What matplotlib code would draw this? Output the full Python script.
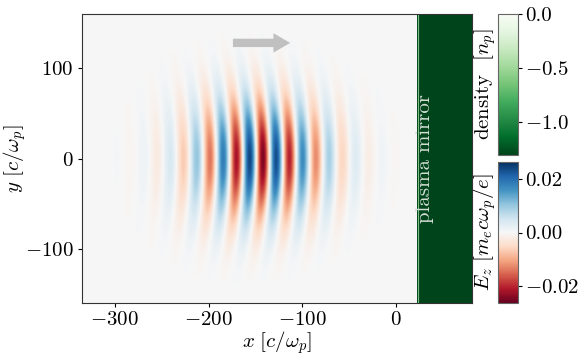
import numpy as np
import matplotlib
matplotlib.use("Agg")
import matplotlib.pyplot as plt

plt.rcParams['font.family'] = 'serif'
plt.rcParams['font.serif'] = ['cmr10']
plt.rcParams['mathtext.fontset'] = 'cm'
plt.rcParams['axes.formatter.use_mathtext'] = True
plt.rcParams['axes.unicode_minus'] = True
plt.rcParams['axes.edgecolor'] = '#333333'
plt.rcParams['xtick.major.size'] = 3
plt.rcParams['ytick.major.size'] = 3

# domain (c/omega_p)
x_range = [-335, 81]
y_range = [-160, 160]

# laser pulse parameters
pulse_center = -145.0
pulse_length = 72.0
pulse_waist = 64.0
wavelength = 28.5
red_crest = -142.0
curvature = 0.0008
E_amp = 0.025
E_lim = 0.0265

# plasma mirror
mirror_start = 23.0
mirror_density = -1.35
dens_lim = [-1.3, 0.0]
dens_ticks = [0.0, -0.5, -1.0]
E_ticks = [0.02, 0.0, -0.02]
x_ticks = [-300, -200, -100, 0]
y_ticks = [-100, 0, 100]

# arrow showing propagation direction
arrow_x = [-174, -113]
arrow_y = 128

fs = 15

x = np.linspace(x_range[0], x_range[1], 900)
y = np.linspace(y_range[0], y_range[1], 700)
X, Y = np.meshgrid(x, y)
xi = X + curvature * Y**2
Ez = -E_amp * np.exp(-((xi - pulse_center) / pulse_length)**2) \
     * np.exp(-(Y / pulse_waist)**2) \
     * np.cos(2 * np.pi * (xi - red_crest) / wavelength)
Ez[X >= mirror_start] = 0.0

dens = np.where(X >= mirror_start, mirror_density, np.nan)
dens = np.ma.masked_invalid(dens)

fig = plt.figure(figsize=(5.81, 3.6), dpi=100)
ax = fig.add_axes([82/581, 57/360, 390/581, 289/360])
cax1 = fig.add_axes([498/581, 205/360, 20/581, 141/360])
cax2 = fig.add_axes([498/581, 57/360, 20/581, 141/360])

extent = [x_range[0], x_range[1], y_range[0], y_range[1]]
im_e = ax.imshow(Ez, extent=extent, origin='lower', cmap='RdBu',
                 vmin=-E_lim, vmax=E_lim, aspect='auto', interpolation='bilinear')
im_d = ax.imshow(dens, extent=extent, origin='lower', cmap='Greens_r',
                 vmin=dens_lim[0], vmax=dens_lim[1], aspect='auto',
                 interpolation='nearest')
ax.axvline(mirror_start, color='#7fbf85', lw=0.8)

ax.annotate('', xy=(arrow_x[1], arrow_y), xytext=(arrow_x[0], arrow_y),
            arrowprops=dict(facecolor='#c0c0c0', edgecolor='none',
                            width=6, headwidth=14, headlength=12))
ax.text(31, 0, 'plasma mirror', rotation=90, color='#d4dfd4',
        ha='center', va='center', fontsize=fs)

ax.set_xlim(x_range)
ax.set_ylim(y_range)
ax.set_xticks(x_ticks)
ax.set_yticks(y_ticks)
ax.tick_params(labelsize=fs, pad=3)
ax.set_xlabel(r'$x\ [c/\omega_p]$', fontsize=fs, labelpad=0)
ax.set_ylabel(r'$y\ [c/\omega_p]$', fontsize=fs)
ax.yaxis.set_label_coords(-0.138, 0.5)

cb1 = fig.colorbar(im_d, cax=cax1, ticks=dens_ticks)
cb1.ax.tick_params(labelsize=fs, pad=2)
cb1.outline.set_edgecolor('#666666')
cb1.ax.yaxis.set_label_position('left')
cb1.set_label(r'density  $[n_p]$', fontsize=fs, labelpad=0)
cb1.ax.set_yticklabels(['0.0', r'$-0.5$', r'$-1.0$'])

cb2 = fig.colorbar(im_e, cax=cax2, ticks=E_ticks)
cb2.ax.tick_params(labelsize=fs, pad=2)
cb2.outline.set_edgecolor('#666666')
cb2.ax.yaxis.set_label_position('left')
cb2.set_label(r'$E_z\ [m_e c\omega_p/e]$', fontsize=fs, labelpad=0)
cb2.ax.set_yticklabels(['0.02', '0.00', r'$-0.02$'])

fig.savefig('out.png', dpi=100)
